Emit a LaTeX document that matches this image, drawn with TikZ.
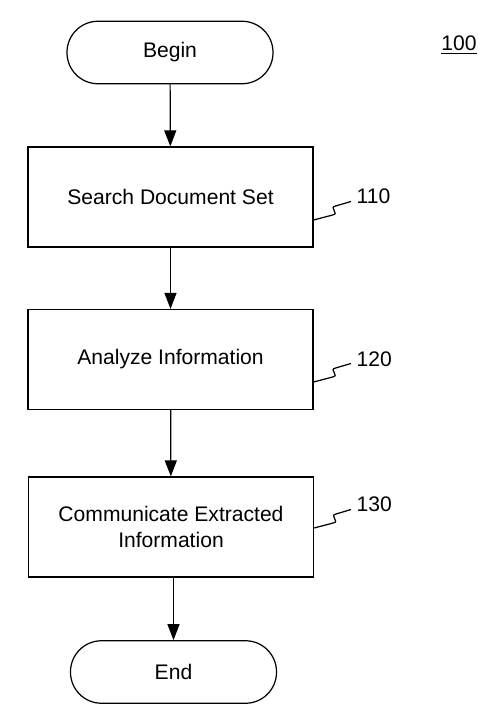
\documentclass[tikz,border=0pt]{standalone}
\usepackage{fontspec}
\setmainfont{Liberation Sans}
\usepackage{tikz}
\usetikzlibrary{arrows.meta}

\begin{document}
\begin{tikzpicture}[
		line width=0.7pt,
		every node/.style={font=\fontsize{12}{14.5}\selectfont},
		terminal/.style={draw, rounded corners=0.62cm, minimum width=4.12cm, minimum height=1.25cm},
		stepbox/.style={draw, minimum width=5.7cm, minimum height=2cm, align=center},
		reflabel/.style={anchor=west, inner sep=0.1cm},
		flow/.style={-{Triangle[length=0.32cm, width=0.24cm]}}
	]
	\useasboundingbox (0, 0) rectangle (10, -14.38);
	
	%Terminals
	\node[terminal] (begin) at (3.40, -1.05) {Begin};
	\node[terminal] (end) at (3.47, -13.44) {End};
	
	%Steps
	\node[stepbox] (search) at (3.41, -3.94) {Search Document Set};
	\node[stepbox] (analyze) at (3.41, -7.19) {Analyze Information};
	\node[stepbox] (communicate) at (3.42, -10.54) {Communicate Extracted\\Information};
	
	%Flow
	\draw[flow] (begin) -- (search);
	\draw[flow] (search) -- (analyze);
	\draw[flow] (analyze) -- (communicate);
	\draw[flow] (communicate.south -| end) -- (end);
	
	%Reference numerals
	\node (l100) at (9.18, -0.9) {\underline{100}};
	\node[reflabel] (l110) at (7.02, -3.92) {110};
	\node[reflabel] (l120) at (7.02, -7.18) {120};
	\node[reflabel] (l130) at (7.02, -10.08) {130};
	
	%Leaders
	\draw ([yshift=-0.46cm]search.east) -- ++(0.38, 0.1) to[out=10, in=190, looseness=2] ++(0.06, 0.18) -- ([yshift=-0.11cm]l110.west);
	\draw ([yshift=-0.45cm]analyze.east) -- ++(0.38, 0.1) to[out=10, in=190, looseness=2] ++(0.06, 0.18) -- ([yshift=-0.09cm]l120.west);
	\draw ([yshift=-0.02cm]communicate.east) -- ++(0.38, 0.1) to[out=10, in=190, looseness=2] ++(0.06, 0.18) -- ([yshift=-0.11cm]l130.west);
\end{tikzpicture}
\end{document}
